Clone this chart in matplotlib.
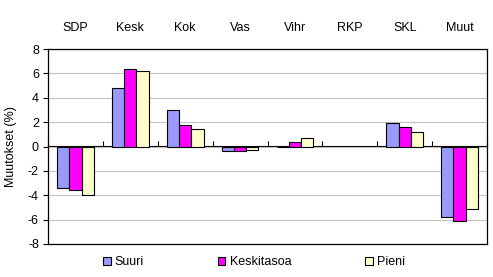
import numpy as np
import matplotlib
matplotlib.use("Agg")
import matplotlib.pyplot as plt
from matplotlib.patches import Patch

# Party categories and changes (%) per municipality size class
parties = ["SDP", "Kesk", "Kok", "Vas", "Vihr", "RKP", "SKL", "Muut"]
suuri = [-3.4, 4.8, 3.0, -0.38, -0.05, 0.0, 1.95, -5.8]
keskitasoa = [-3.55, 6.35, 1.78, -0.38, 0.4, 0.0, 1.6, -6.1]
pieni = [-4.0, 6.2, 1.47, -0.25, 0.72, 0.0, 1.2, -5.15]
series_names = ["Suuri", "Keskitasoa", "Pieni"]
colors = ["#9999FF", "#FF00FF", "#FFFFCC"]
yticks = [-8, -6, -4, -2, 0, 2, 4, 6, 8]

plt.rcParams["font.family"] = ["Liberation Sans", "DejaVu Sans"]
plt.rcParams["font.size"] = 9

fig = plt.figure(figsize=(4.93, 2.77), dpi=100)
ax = fig.add_axes([48 / 493, 33 / 277, 439 / 493, 195 / 277])

x = np.arange(len(parties))
w = 0.223
for i, (vals, col) in enumerate(zip([suuri, keskitasoa, pieni], colors)):
    # zero-valued bars are not drawn in the original
    lws = [0.8 if v != 0 else 0 for v in vals]
    ax.bar(x + (i - 1) * w, vals, width=w, color=col, edgecolor="black",
           linewidth=lws, zorder=3)

ax.set_xlim(-0.5, len(parties) - 0.5)
ax.set_ylim(-8, 8)
ax.set_yticks(yticks)
ax.set_yticklabels([str(t) for t in yticks])
ax.grid(axis="y", color="#C0C0C0", linewidth=0.8, zorder=0)
ax.set_axisbelow(True)

# category names on top, no tick marks
ax.set_xticks(x)
ax.set_xticklabels(parties)
ax.tick_params(axis="x", top=True, bottom=False, labeltop=True,
               labelbottom=False, length=0, pad=11)
ax.tick_params(axis="y", direction="out", length=3.5, width=0.8, pad=3)

for s in ax.spines.values():
    s.set_linewidth(0.9)
    s.set_color("black")

# zero line with small ticks between categories
sec = ax.secondary_xaxis(0.5)
sec.set_xticks(np.arange(len(parties) + 1) - 0.5)
sec.set_xticklabels([])
sec.tick_params(direction="out", length=3.5, width=0.8)
sec.spines["bottom"].set_linewidth(0.9)

ax.set_ylabel("Muutokset (%)", labelpad=8)

handles = [Patch(facecolor=c, edgecolor="black", linewidth=0.8) for c in colors]
fig.legend(handles, series_names, loc="center", bbox_to_anchor=(254 / 493, 1 - 262 / 277),
           ncol=3, frameon=False, handlelength=0.6, handleheight=0.6,
           handletextpad=0.35, columnspacing=5.9, borderpad=0)

fig.savefig("out.png", dpi=100)
